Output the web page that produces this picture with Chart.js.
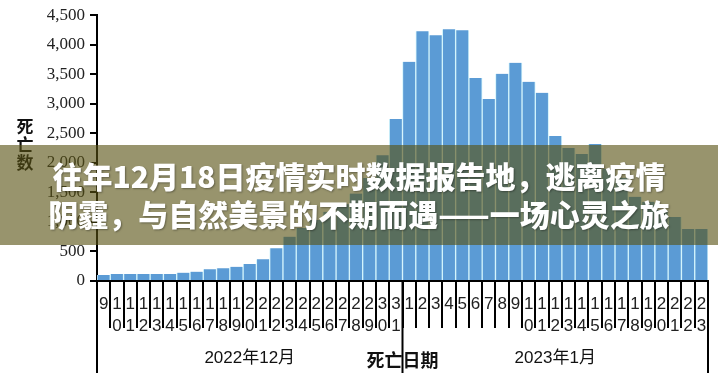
<!DOCTYPE html>
<html>
<head>
<meta charset="utf-8">
<script src="https://cdn.jsdelivr.net/npm/chart.js@4/dist/chart.umd.min.js"></script>
<style>
  body { margin: 0; background: #fff; }
  #wrap { position: relative; width: 718px; height: 388px; overflow: hidden; }
  #banner {
    position: absolute; left: 0; top: 145px; width: 718px; height: 100px;
    background: rgba(89, 83, 19, 0.62);
    box-sizing: border-box; padding-top: 11px;
    color: #fff; text-align: center;
    font-family: "Noto Sans CJK SC", sans-serif; font-weight: 900;
    font-size: 30px; line-height: 38px;
    text-shadow: 1px 1px 2px rgba(0, 0, 0, 0.35);
    white-space: nowrap;
  }
</style>
</head>
<body>
<div id="wrap">
  <canvas id="deaths" width="718" height="388"></canvas>
  <div id="banner">往年12月18日疫情实时数据报告地，逃离疫情<br>阴霾，与自然美景的不期而遇——一场心灵之旅</div>
</div>
<script>
// days shown on the x axis, split by month
const decDays = [9, 10, 11, 12, 13, 14, 15, 16, 17, 18, 19, 20, 21, 22, 23, 24, 25, 26, 27, 28, 29, 30, 31];
const janDays = [1, 2, 3, 4, 5, 6, 7, 8, 9, 10, 11, 12, 13, 14, 15, 16, 17, 18, 19, 20, 21, 22, 23];
const groupNames = ['2022年12月', '2023年1月'];

// deaths per day
const decDeaths = [100, 118, 118, 118, 118, 118, 141, 158, 197, 214, 242, 288, 370, 555, 750, 897, 1032, 1173, 1300, 1480, 1743, 2130, 2741];
const janDeaths = [3711, 4230, 4162, 4264, 4247, 3435, 3080, 3508, 3694, 3372, 3186, 2455, 2250, 2150, 2318, 1900, 1750, 1426, 1340, 1200, 1083, 880, 880];

const yTitle = ['死', '亡', '数'];
const xTitle = '死亡日期';

const labels = decDays.concat(janDays).map(d => String(d).split(''));
const values = decDeaths.concat(janDeaths);

// long separators under the axis + month names + stacked y title
const monthGroups = {
    id: 'monthGroups',
    afterDraw(chart) {
        const ctx = chart.ctx;
        const x = chart.scales.x;
        const area = chart.chartArea;
        const half = (x.getPixelForValue(1) - x.getPixelForValue(0)) / 2;
        const split = x.getPixelForValue(decDays.length - 1) + half;
        const bottom = 373;

        ctx.save();
        ctx.strokeStyle = '#000';
        ctx.lineWidth = 2;
        [area.left, split, area.right].forEach(px => {
            ctx.beginPath();
            ctx.moveTo(px, area.bottom);
            ctx.lineTo(px, bottom);
            ctx.stroke();
        });

        ctx.fillStyle = '#111';
        ctx.textAlign = 'center';
        ctx.textBaseline = 'middle';
        ctx.font = '17px "Liberation Sans", "Noto Sans CJK SC", sans-serif';
        ctx.fillText(groupNames[0], (area.left + split) / 2, 358);
        ctx.fillText(groupNames[1], (split + area.right) / 2, 358);

        ctx.font = 'bold 17px "Liberation Serif", "Noto Sans CJK SC", serif';
        yTitle.forEach((ch, i) => ctx.fillText(ch, 25, 129 + i * 18));
        ctx.restore();
    }
};

new Chart(document.getElementById('deaths'), {
    type: 'bar',
    data: {
        labels: labels,
        datasets: [{
            data: values,
            backgroundColor: '#5b9bd5',
            borderColor: '#d2f4fc',
            borderWidth: { left: 1, right: 1, top: 0, bottom: 0 },
            borderSkipped: 'bottom',
            barPercentage: 1,
            categoryPercentage: 1
        }]
    },
    options: {
        responsive: false,
        animation: false,
        layout: { padding: { top: 15, right: 10, left: 0, bottom: 0 } },
        plugins: {
            legend: { display: false },
            tooltip: { enabled: false }
        },
        scales: {
            x: {
                grid: { offset: true, drawOnChartArea: false, color: '#000', lineWidth: 2, tickLength: 47 },
                border: { color: '#000', width: 2 },
                ticks: {
                    color: '#222',
                    font: { family: '"Liberation Sans", sans-serif', size: 17, lineHeight: 1.32 },
                    padding: -35,
                    maxRotation: 0,
                    autoSkip: false
                },
                title: {
                    display: true,
                    text: xTitle,
                    color: '#111',
                    font: { family: '"Liberation Serif", "Noto Sans CJK SC", serif', size: 18, weight: 'bold' },
                    padding: { top: 0, bottom: 15 }
                },
                afterFit(scale) { scale.height = 107; }
            },
            y: {
                min: 0,
                max: 4500,
                ticks: {
                    stepSize: 500,
                    color: '#222',
                    font: { family: '"Liberation Serif", serif', size: 17 },
                    padding: 5
                },
                grid: { drawOnChartArea: false, color: '#000', lineWidth: 2, tickLength: 7 },
                border: { color: '#000', width: 2 },
                afterFit(scale) { scale.width = 97; }
            }
        }
    },
    plugins: [monthGroups]
});
</script>
</body>
</html>
